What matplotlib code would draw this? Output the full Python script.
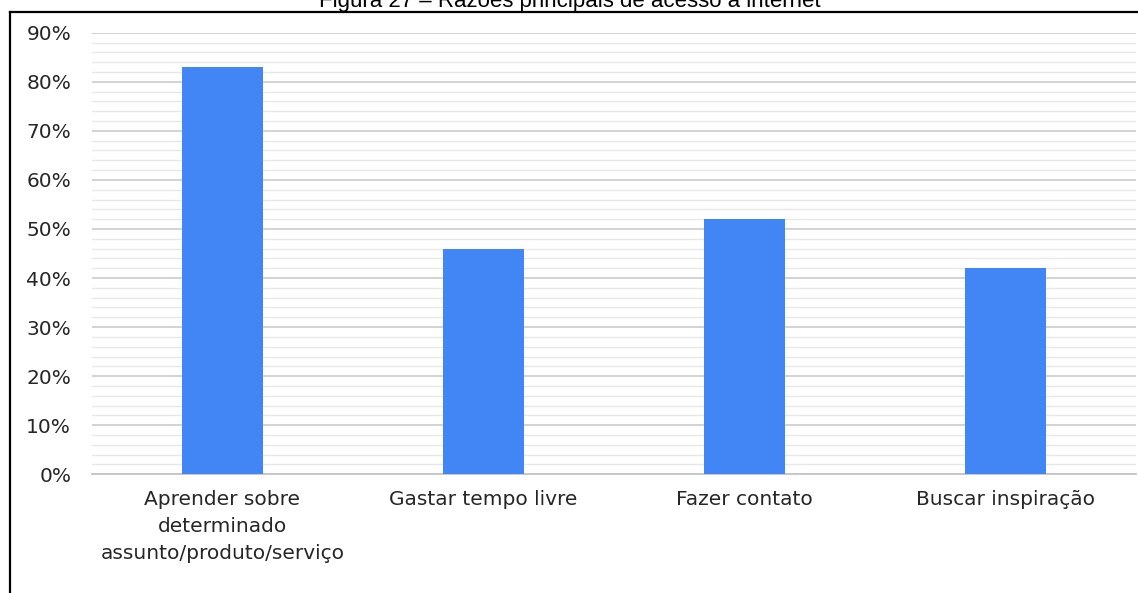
import matplotlib.pyplot as plt
from matplotlib.lines import Line2D
from matplotlib.ticker import MultipleLocator, FuncFormatter

# razões de acesso (% dos respondentes)
categorias = ["Aprender sobre\ndeterminado\nassunto/produto/serviço",
              "Gastar tempo livre",
              "Fazer contato",
              "Buscar inspiração"]
valores = [83, 46, 52, 42]
titulo = "Figura 27 – Razões principais de acesso à internet"

plt.rcParams['font.family'] = ['DejaVu Sans']
cor_texto = '#262626'

fig = plt.figure(figsize=(11.38, 5.93), dpi=100)
ax = fig.add_axes([92 / 1138, 118.7 / 593, 1044 / 1138, 441.6 / 593])

x = list(range(len(categorias)))
ax.bar(x, valores, width=0.31, color='#4285F4', zorder=3)

ax.set_xlim(-0.5, len(categorias) - 0.5)
ax.set_ylim(0, 90)
ax.yaxis.set_major_locator(MultipleLocator(10))
ax.yaxis.set_minor_locator(MultipleLocator(2))
ax.yaxis.set_major_formatter(FuncFormatter(lambda v, p: f"{v:.0f}%"))

ax.grid(axis='y', which='major', color='#d0d0d0', linewidth=1.3, zorder=0)
ax.grid(axis='y', which='minor', color='#e8e8e8', linewidth=1.0, zorder=0)
ax.set_axisbelow(True)

ax.set_xticks(x)
ax.set_xticklabels(categorias, fontsize=14.5, color=cor_texto, linespacing=1.55)
ax.tick_params(axis='x', length=0, pad=11)
ax.tick_params(axis='y', which='both', length=0, pad=15, labelsize=14.5,
               labelcolor=cor_texto)

for lado in ['top', 'right', 'left']:
    ax.spines[lado].set_visible(False)
ax.spines['bottom'].set_color('#c4c4c4')
ax.spines['bottom'].set_linewidth(1.3)

# moldura da figura (topo e lateral esquerda)
fig.add_artist(Line2D([10 / 1138, 1.0], [1 - 12 / 593, 1 - 12 / 593],
                      transform=fig.transFigure, color='black', linewidth=1.6))
fig.add_artist(Line2D([10 / 1138, 10 / 1138], [0, 1 - 12 / 593],
                      transform=fig.transFigure, color='black', linewidth=1.6))

fig.text(570 / 1138, 1 - 7.5 / 593, titulo, ha='center', va='baseline',
         fontsize=16, color='black', family=['Liberation Sans', 'DejaVu Sans'])

fig.savefig('out.png', dpi=100)
